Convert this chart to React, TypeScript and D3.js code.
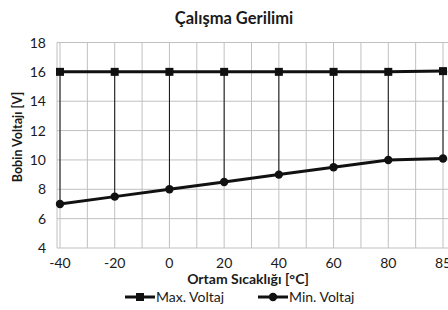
import React from 'react';
import * as d3 from 'd3';

// Chart data
const temps = ['-40', '-20', '0', '20', '40', '60', '80', '85'];
const maxVoltage = [16, 16, 16, 16, 16, 16, 16, 16.05];
const minVoltage = [7, 7.5, 8, 8.5, 9, 9.5, 10, 10.1];
const yTicks = [4, 6, 8, 10, 12, 14, 16, 18];

const W = 448;
const H = 310;
const font = 'Lato, "Open Sans", sans-serif';

const App: React.FC = () => {
  const left = 57;
  const right = 448;
  const top = 42.5;
  const bottom = 248;

  const x = d3.scalePoint<string>().domain(temps).range([60, 443]);
  const y = d3.scaleLinear().domain([4, 18]).range([bottom, top]);
  const step = x.step();

  const line = d3.line<number>()
    .x((_, i) => x(temps[i]) as number)
    .y(d => y(d));

  // minor vertical grid lines between categories
  const minorX = temps.slice(0, -1).map(t => (x(t) as number) + step / 2);

  return (
    <svg width={W} height={H} style={{ position: 'absolute', left: 0, top: 0, background: '#fff' }}>
      <text x={234} y={24} textAnchor="middle" fontFamily={font} fontWeight="bold" fontSize={16.5} fill="#1a1a1a">
        Çalışma Gerilimi
      </text>

      {/* grid */}
      <g stroke="#c0c0c0" strokeWidth={1}>
        {yTicks.map(t => (
          <line key={t} x1={left} x2={right} y1={y(t)} y2={y(t)} />
        ))}
        <line x1={left} x2={left} y1={top} y2={bottom} />
        {temps.map(t => (
          <line key={t} x1={x(t)} x2={x(t)} y1={top} y2={bottom} />
        ))}
        {minorX.map(v => (
          <line key={v} x1={v} x2={v} y1={top} y2={bottom} />
        ))}
      </g>

      {/* y tick labels */}
      {yTicks.map(t => (
        <text key={t} x={46} y={y(t) + 5} textAnchor="end" fontFamily={font} fontSize={14} fill="#1a1a1a">
          {t}
        </text>
      ))}

      {/* x tick labels */}
      {temps.map(t => (
        <text key={t} x={x(t)} y={268} textAnchor="middle" fontFamily={font} fontSize={14} fill="#1a1a1a">
          {t}
        </text>
      ))}

      {/* axis titles */}
      <text x={248} y={284} textAnchor="middle" fontFamily={font} fontWeight="bold" fontSize={14} fill="#1a1a1a">
        Ortam Sıcaklığı [°C]
      </text>
      <text transform="translate(22,137) rotate(-90)" textAnchor="middle" fontFamily={font} fontWeight="bold" fontSize={12.5} fill="#1a1a1a">
        Bobin Voltajı [V]
      </text>

      {/* high-low lines */}
      <g stroke="#111" strokeWidth={1}>
        {temps.map((t, i) => (
          <line key={t} x1={x(t)} x2={x(t)} y1={y(maxVoltage[i])} y2={y(minVoltage[i])} />
        ))}
      </g>

      {/* series */}
      <path d={line(maxVoltage) || ''} fill="none" stroke="#111" strokeWidth={3} />
      {maxVoltage.map((v, i) => (
        <rect key={i} x={(x(temps[i]) as number) - 4} y={y(v) - 4} width={8} height={8} fill="#111" />
      ))}
      <path d={line(minVoltage) || ''} fill="none" stroke="#111" strokeWidth={3} />
      {minVoltage.map((v, i) => (
        <circle key={i} cx={x(temps[i])} cy={y(v)} r={4.2} fill="#111" />
      ))}

      {/* legend */}
      <g fontFamily={font} fontSize={14} fill="#1a1a1a">
        <line x1={125} x2={155} y1={297} y2={297} stroke="#111" strokeWidth={3} />
        <rect x={136} y={293} width={8} height={8} fill="#111" />
        <text x={156} y={302}>Max. Voltaj</text>
        <line x1={258} x2={288} y1={297} y2={297} stroke="#111" strokeWidth={3} />
        <circle cx={273} cy={297} r={4.2} fill="#111" />
        <text x={289} y={302}>Min. Voltaj</text>
      </g>
    </svg>
  );
};

export default App;
